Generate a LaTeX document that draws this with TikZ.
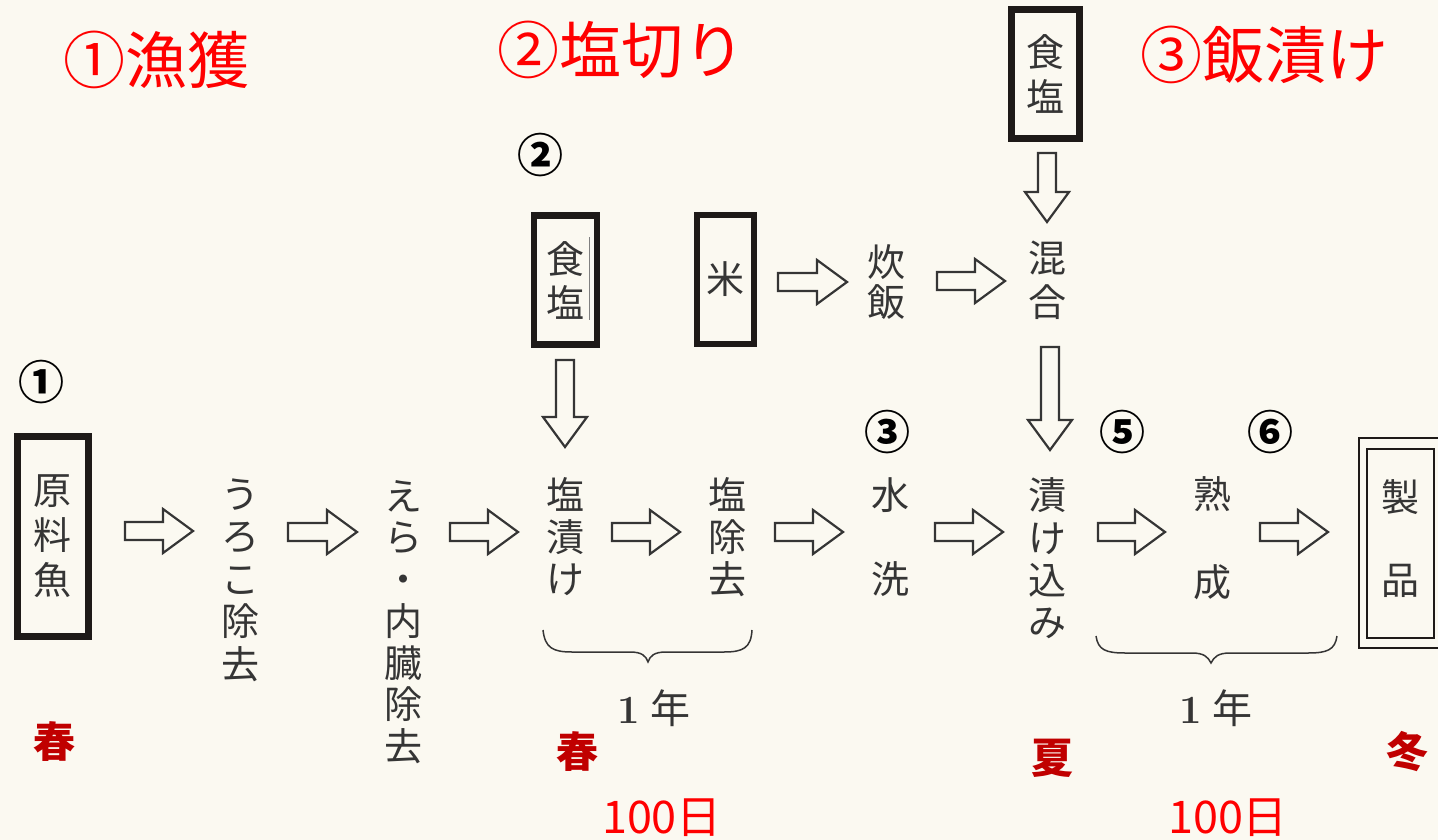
\documentclass[tikz,border=0pt]{standalone}
\usepackage{fontspec}
\newfontfamily\jp{Noto Sans CJK JP}
\usetikzlibrary{calc}
\definecolor{paper}{HTML}{FBF9F1}
\definecolor{ink}{HTML}{353535}
\definecolor{boxink}{HTML}{1E1A18}
\definecolor{titred}{HTML}{FF0000}
\definecolor{seasred}{HTML}{C00000}
\newcommand\hollowarrow[2]{%
  \path ($(#2)!30pt!(#1)$) coordinate (hb);
  \draw[blockarr] ($(#1)!9pt!90:(#2)$) -- ($(hb)!9pt!-90:(#1)$) -- ($(hb)!22pt!-90:(#1)$) -- (#2)
    -- ($(hb)!22pt!90:(#1)$) -- ($(hb)!9pt!90:(#1)$) -- ($(#1)!9pt!-90:(#2)$) -- cycle;}
\tikzset{
  vt/.style={font=\jp\fontsize{38}{#1}\selectfont, text=ink, align=center, inner sep=0pt},
  vt/.default=42,
  tbox/.style={draw=boxink, line width=#1, inner sep=0pt},
  blockarr/.style={draw=ink, line width=2.2pt, line join=miter, fill=paper},
  title/.style={font=\jp\fontsize{62}{62}\selectfont, text=titred, inner sep=0pt},
  circ/.style={font=\jp\bfseries\fontsize{46}{46}\selectfont, text=black, inner sep=0pt},
  season/.style={font=\jp\bfseries\fontsize{42}{42}\selectfont, text=seasred, inner sep=0pt},
  days/.style={font=\jp\fontsize{45}{45}\selectfont, text=titred, inner sep=0pt},
  yearlbl/.style={font=\fontsize{40}{40}\selectfont, text=ink, inner sep=0pt},
  bracestyle/.style={draw=ink, line width=1.5pt}
}
\begin{document}
\begin{tikzpicture}[x=1pt,y=-1pt]
\fill[paper] (0,0) rectangle (1438,840);
\useasboundingbox (0,0) rectangle (1438,840);

% red titles
\node[title] (t1) at (156,60) {①漁獲};
\node[title] (t2) at (621,50) {②塩切り};
\node[title] (t3) at (1264,55) {③飯漬け};

% circled numbers
\node[circ] (c1) at (42,382) {①};
\node[circ] (c2) at (540,155) {②};
\node[circ] (c3) at (887,432) {③};
\node[circ] (c5) at (1122,432) {⑤};
\node[circ] (c6) at (1270,432) {⑥};

% boxes
\node[tbox=7pt, vt=45, minimum width=71pt, minimum height=200pt] (raw) at (53,536.5) {原\\料\\魚};
\node[tbox=6.5pt, vt=44, minimum width=63pt, minimum height=129pt] (saltA) at (565.5,280) {食\\塩};
\draw[line width=1pt, gray] (589,237) -- (589,320);
\node[tbox=6.5pt, vt, minimum width=57pt, minimum height=129pt] (rice) at (725.5,279.5) {米};
\node[tbox=7pt, vt=45, minimum width=68pt, minimum height=129pt] (saltB) at (1045.5,74) {食\\塩};

% product double box
\draw[boxink, line width=2pt] (1438,438) -| (1359,648) -- (1438,648);
\draw[boxink, line width=2pt] (1367,449) rectangle (1434,638);
\node[vt=83] (prod) at (1400,538.5) {製\\品};

% step texts
\node[vt=42.5] (scale) at (240,580) {う\\ろ\\こ\\除\\去};
\node[vt=41.7] (gill) at (403,622) {え\\ら\\・\\内\\臓\\除\\去};
\node[vt=42] (salt1) at (565,537) {塩\\漬\\け};
\node[vt=42] (desalt) at (727,537) {塩\\除\\去};
\node[vt=84] (wash) at (890,537) {水\\洗};
\node[vt=42.3] (pickle) at (1047,558.5) {漬\\け\\込\\み};
\node[vt=88] (ripen) at (1212,538) {熟\\成};
\node[vt=40] (cook) at (886,282) {炊\\飯};
\node[vt=44] (mix) at (1047,280) {混\\合};

% arrow end points
\coordinate (a1s) at (125,531);  \coordinate (a1e) at (193,531);
\coordinate (a2s) at (288,532);  \coordinate (a2e) at (357,532);
\coordinate (a3s) at (450,532);  \coordinate (a3e) at (518,532);
\coordinate (a4s) at (612,532);  \coordinate (a4e) at (680,532);
\coordinate (a5s) at (775,532);  \coordinate (a5e) at (843,532);
\coordinate (a6s) at (935,532);  \coordinate (a6e) at (1003,532);
\coordinate (a7s) at (1098,532); \coordinate (a7e) at (1165,532);
\coordinate (a8s) at (1260,532); \coordinate (a8e) at (1328,532);
\coordinate (a9s) at (778,282);  \coordinate (a9e) at (847,282);
\coordinate (a10s) at (937,281); \coordinate (a10e) at (1005,281);
\coordinate (a11s) at (565,360); \coordinate (a11e) at (565,447);
\coordinate (a12s) at (1047,153); \coordinate (a12e) at (1047,222);
\coordinate (a13s) at (1050,347); \coordinate (a13e) at (1050,450);

\hollowarrow{a1s}{a1e}
\hollowarrow{a2s}{a2e}
\hollowarrow{a3s}{a3e}
\hollowarrow{a4s}{a4e}
\hollowarrow{a5s}{a5e}
\hollowarrow{a6s}{a6e}
\hollowarrow{a7s}{a7e}
\hollowarrow{a8s}{a8e}
\hollowarrow{a9s}{a9e}
\hollowarrow{a10s}{a10e}
\hollowarrow{a11s}{a11e}
\hollowarrow{a12s}{a12e}
\hollowarrow{a13s}{a13e}

% braces
\draw[bracestyle] (543,630) .. controls (545,648) and (553,652) .. (572,652) -- (630,652)
  .. controls (642,652) and (646,656) .. (648,662) .. controls (650,656) and (654,652) .. (666,652)
  -- (724,652) .. controls (743,652) and (751,648) .. (752,630);
\draw[bracestyle] (1096,636) .. controls (1098,650) and (1106,653) .. (1125,653) -- (1192,653)
  .. controls (1204,653) and (1208,657) .. (1211,663) .. controls (1214,657) and (1218,653) .. (1230,653)
  -- (1308,653) .. controls (1327,653) and (1335,650) .. (1337,636);

% period labels
\node[yearlbl] (y1) at (654,708) {\textbf{1}\hspace{10pt}{\jp 年}};
\node[yearlbl] (y2) at (1216,708) {\textbf{1}\hspace{10pt}{\jp 年}};

% seasons
\node[season] (s1) at (55,742) {春};
\node[season] (s2) at (577,752) {春};
\node[season] (s3) at (1052,758) {夏};
\node[season] (s4) at (1407,752) {冬};

% days
\node[days] (d1) at (662,818) {100日};
\node[days] (d2) at (1228,818) {100日};
\end{tikzpicture}
\end{document}
